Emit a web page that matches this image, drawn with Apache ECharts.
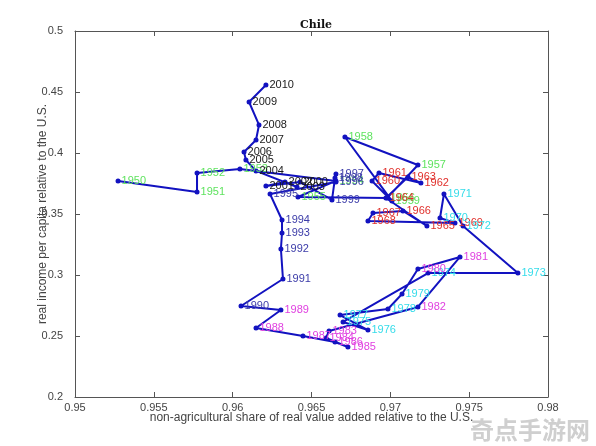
<!DOCTYPE html>
<html>
<head>
<meta charset="utf-8">
<script src="https://cdn.jsdelivr.net/npm/echarts@6/dist/echarts.min.js"></script>
<style>
  html, body { margin: 0; padding: 0; background: #fff; }
  #main { width: 596px; height: 446px; }
</style>
</head>
<body>
<div id="main"></div>
<script>
// years 1950..2010
var years = [];
for (var yr = 1950; yr <= 2010; yr++) years.push(yr);

// non-agricultural share of real value added relative to the U.S.
var xShare = [
  0.95273, 0.95774, 0.95774, 0.96046, 0.96655, 0.96414, 0.96979, 0.97175, 0.96712, 0.97010,
  0.96884, 0.96928, 0.97194, 0.97112, 0.96972, 0.97232, 0.97080, 0.96890, 0.96858, 0.97410,
  0.97315, 0.97340, 0.97461, 0.97809, 0.97239, 0.96700, 0.96858, 0.96681, 0.96985, 0.97074,
  0.97175, 0.97442, 0.97175, 0.96611, 0.96592, 0.96731, 0.96649, 0.96446, 0.96148, 0.96306,
  0.96053, 0.96319, 0.96306, 0.96313, 0.96313, 0.96237, 0.96655, 0.96655, 0.96649, 0.96630,
  0.96427, 0.96211, 0.96332, 0.96408, 0.96148, 0.96084, 0.96072, 0.96148, 0.96167, 0.96104,
  0.96211
];

// real income per capita relative to the U.S.
var yIncome = [
  0.3771, 0.3680, 0.3836, 0.3869, 0.3771, 0.3639, 0.3631, 0.3902, 0.4131, 0.3607,
  0.3771, 0.3836, 0.3754, 0.3803, 0.3631, 0.3402, 0.3525, 0.3508, 0.3443, 0.3426,
  0.3467, 0.3664, 0.3402, 0.3016, 0.3016, 0.2615, 0.2549, 0.2672, 0.2721, 0.2844,
  0.3049, 0.3148, 0.2738, 0.2541, 0.2484, 0.2410, 0.2451, 0.2500, 0.2566, 0.2713,
  0.2746, 0.2967, 0.3213, 0.3344, 0.3451, 0.3664, 0.3762, 0.3828, 0.3795, 0.3615,
  0.3762, 0.3730, 0.3762, 0.3721, 0.3853, 0.3943, 0.4008, 0.4107, 0.4230, 0.4418,
  0.4557
];

// label colour per decade: 1950s .. 2010s
var decadeColors = ['#5fe35f', '#e0302c', '#35dcea', '#e040e0', '#3b3ba8', '#1a1a1a', '#1a1a1a'];

var points = [];
for (var i = 0; i < years.length; i++) {
  points.push({
    value: [xShare[i], yIncome[i]],
    name: String(years[i]),
    label: { color: decadeColors[Math.floor((years[i] - 1950) / 10)] }
  });
}

var chart = echarts.init(document.getElementById('main'));

var axisCommon = {
  axisLine: { show: true, onZero: false, lineStyle: { color: '#555', width: 1 } },
  axisTick: { show: true, inside: true, length: 5, lineStyle: { color: '#555' } },
  splitLine: { show: false }
};

var option = {
  animation: false,
  backgroundColor: '#fff',
  title: {
    text: 'Chile',
    left: 311,
    top: 15,
    textAlign: 'center',
    textStyle: { fontFamily: 'DejaVu Serif', fontSize: 11, fontWeight: 'bold', color: '#111' }
  },
  grid: { left: 75, right: 48, top: 31, bottom: 49 },
  xAxis: [
    Object.assign({
      type: 'value', position: 'bottom', min: 0.95, max: 0.98, interval: 0.005,
      name: 'non-agricultural share of real value added relative to the U.S.',
      nameLocation: 'middle', nameGap: 15, nameMoveOverlap: false,
      nameTextStyle: { fontFamily: 'Liberation Sans', fontSize: 12, color: '#444' },
      axisLabel: {
        fontFamily: 'Liberation Sans', fontSize: 11, color: '#444', margin: 5,
        formatter: function (v) { return String(+v.toFixed(3)); }
      }
    }, axisCommon),
    Object.assign({
      type: 'value', position: 'top', min: 0.95, max: 0.98, interval: 0.005,
      axisLabel: { show: false }
    }, axisCommon)
  ],
  yAxis: [
    Object.assign({
      type: 'value', position: 'left', min: 0.2, max: 0.5, interval: 0.05,
      name: 'real income per capita relative to the U.S.',
      nameLocation: 'middle', nameGap: 26, nameMoveOverlap: false,
      nameTextStyle: { fontFamily: 'Liberation Sans', fontSize: 12, color: '#444' },
      axisLabel: {
        fontFamily: 'Liberation Sans', fontSize: 11, color: '#444', margin: 12,
        formatter: function (v) { return String(+v.toFixed(2)); }
      }
    }, axisCommon),
    Object.assign({
      type: 'value', position: 'right', min: 0.2, max: 0.5, interval: 0.05,
      axisLabel: { show: false }
    }, axisCommon)
  ],
  series: [{
    type: 'line',
    data: points,
    xAxisIndex: 0,
    yAxisIndex: 0,
    symbol: 'circle',
    symbolSize: 5,
    showAllSymbol: true,
    lineStyle: { color: '#1212c0', width: 2 },
    itemStyle: { color: '#1212c0' },
    label: {
      show: true,
      position: 'right',
      distance: 1,
      fontFamily: 'Liberation Sans',
      fontSize: 11,
      formatter: function (p) { return p.name; }
    },
    labelLayout: { hideOverlap: false }
  }],
  graphic: [{
    type: 'text',
    right: 6,
    bottom: 4,
    style: { text: '奇点手游网', font: 'bold 24px "Noto Sans CJK SC"', fill: '#cfcfcf' }
  }]
};

chart.setOption(option);
</script>
</body>
</html>
